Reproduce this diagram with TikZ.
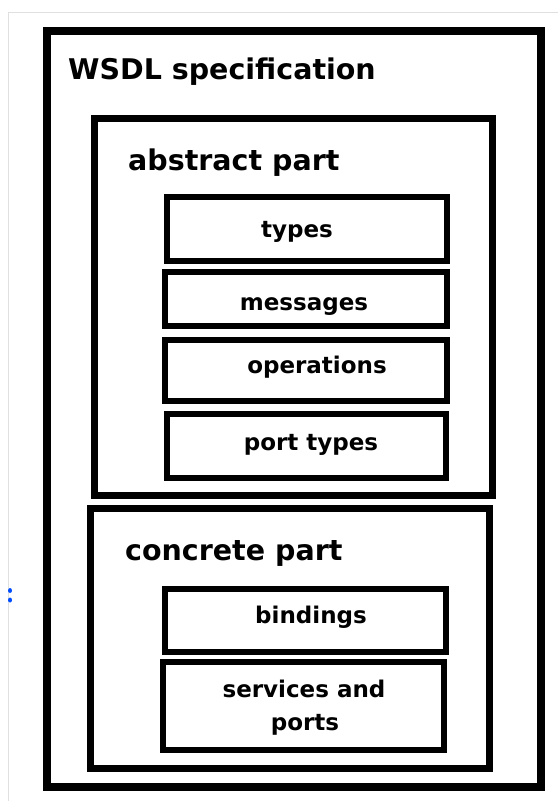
\documentclass[tikz,border=0pt]{standalone}
\usepackage{fontspec}
\setmainfont{DejaVu Sans}
\begin{document}
\begin{tikzpicture}[x=1pt,y=-1pt,
  outerline/.style={draw=black, line width=8pt},
  partline/.style={draw=black, line width=7pt},
  itemline/.style={draw=black, line width=5.5pt},
  headtext/.style={font=\bfseries\fontsize{28.5}{32}\selectfont, inner sep=0pt},
  itemtext/.style={font=\bfseries\fontsize{23}{33}\selectfont, inner sep=0pt, align=center}]
  \useasboundingbox (0,0) rectangle (558,801);
  \fill[white] (0,0) rectangle (558,801);
  % thin frame of the page
  \draw[black!12, line width=1pt] (8,801) -- (8,12) -- (558,12);
  \fill[blue!70!cyan] (10,590.5) ellipse (2pt and 2.5pt);
  \fill[blue!70!cyan] (10,600) ellipse (2pt and 2.5pt);

  % specification and its two parts
  \draw[outerline] (47,31) rectangle (541,787);
  \node[headtext, anchor=base west] (wsdl) at (68,79) {WSDL specification};

  \draw[partline] (94,118) rectangle (492,495);
  \node[headtext, anchor=base west] (abstract) at (128,170) {abstract part};

  \draw[partline] (90,508) rectangle (489,768);
  \node[headtext, anchor=base west] (concrete) at (125,560) {concrete part};

  % elements of the abstract part
  \draw[itemline] (167,197) rectangle (447,261);
  \node[itemtext, anchor=base] (types) at (297,237) {types};
  \draw[itemline] (165,272) rectangle (447,326);
  \node[itemtext, anchor=base] (messages) at (304,310) {messages};
  \draw[itemline] (165,340) rectangle (447,401);
  \node[itemtext, anchor=base] (operations) at (317,373) {operations};
  \draw[itemline] (167,414) rectangle (446,478);
  \node[itemtext, anchor=base] (porttypes) at (311,450) {port types};

  % elements of the concrete part
  \draw[itemline] (165,589) rectangle (446,652);
  \node[itemtext, anchor=base] (bindings) at (311,623) {bindings};
  \draw[itemline] (163,662) rectangle (444,750);
  \node[itemtext, anchor=base] (services) at (304,697) {services and};
  \node[itemtext, anchor=base] (ports) at (305,730) {ports};
\end{tikzpicture}
\end{document}
